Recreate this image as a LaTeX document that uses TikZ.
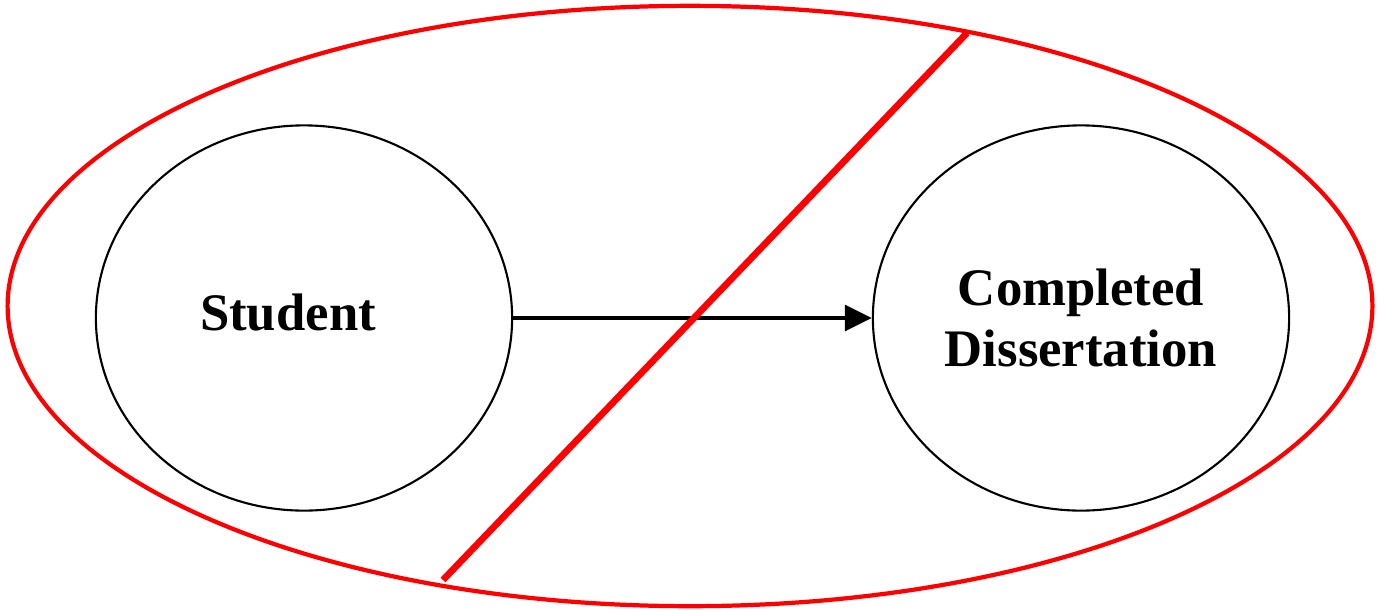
\documentclass[tikz,border=0pt]{standalone}
\usepackage{fontspec}
\setmainfont{Liberation Serif}
\usepackage{tikz}
\usetikzlibrary{shapes.geometric, arrows.meta, positioning}

\begin{document}
\begin{tikzpicture}[
    x=0.01cm, y=-0.01cm,
    circ/.style={ellipse, draw, line width=0.6pt, minimum width=4.16cm, minimum height=3.85cm, inner sep=0pt},
    lbl/.style={align=center, font=\fontsize{15}{17.6}\selectfont\bfseries},
    frame/.style={ellipse, draw=red, line width=1.2pt, minimum width=13.64cm, minimum height=6.0cm, inner sep=0pt},
    arr/.style={-{Triangle[length=7.7pt, width=7.4pt]}, line width=1pt},
    cut/.style={red, line width=1.9pt},
]
    \useasboundingbox (0,0) rectangle (1382,609);

    % Outer frame
    \node[frame] (frame) at (690,306) {};

    % Two states
    \node[circ] (student) at (304,318) {};
    \node[lbl, xshift=-0.16cm, yshift=0.05cm] (studenttxt) at (student.center) {Student};
    \node[circ, lbl] (thesis) at (1081,318) {Completed\\Dissertation};

    % Path from student to thesis
    \draw[arr] (student.east) -- (thesis.west);

    % Struck through
    \coordinate (cutlo) at (443,580);
    \coordinate (cuthi) at (967,33);
    \draw[cut] (cutlo) -- (cuthi);

\end{tikzpicture}
\end{document}
